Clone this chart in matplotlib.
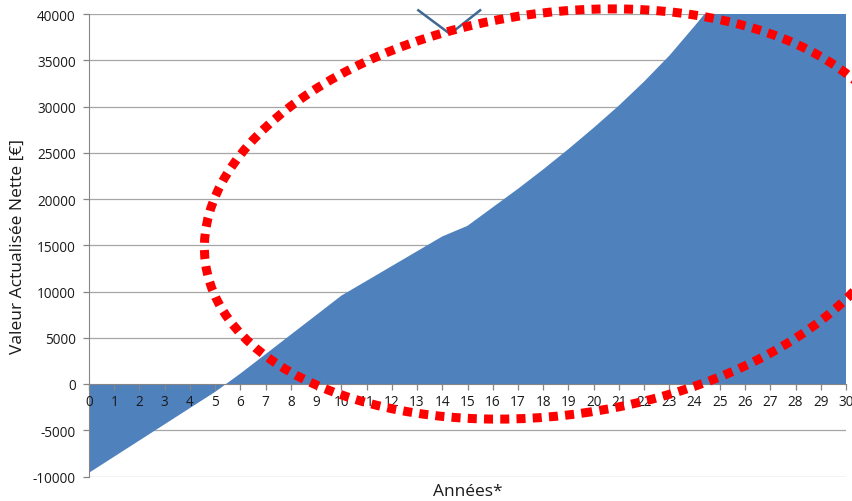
import matplotlib
matplotlib.use("Agg")
import matplotlib.pyplot as plt
from matplotlib.patches import Ellipse

# Net present value over the investment horizon (euros)
years = list(range(0, 31))
npv = [-9600, -7850, -6100, -4350, -2600, -850, 1130, 3230, 5340, 7440,
       9550, 11150, 12750, 14350, 15950, 17100, 19100, 21100, 23200, 25400,
       27700, 30100, 32700, 35500, 38700, 42000, 45500, 49000, 53000, 57000,
       61000]

y_ticks = list(range(-10000, 40001, 5000))

# Arrow-like mark near the top of the chart (year, value)
v_x = [13.05, 14.31, 15.50]
v_y = [40400, 37840, 40400]

plt.rcParams['font.family'] = ['Open Sans', 'DejaVu Sans']

W, H = 852, 502
fig = plt.figure(figsize=(W / 100, H / 100), dpi=100)
ax = fig.add_axes([89 / W, 24.5 / H, (846 - 89) / W, (487 - 24.5) / H])

grid_c = '#a6a6a6'
ax.set_axisbelow(False)
for v in y_ticks:
    if v != 0:
        ax.axhline(v, color=grid_c, linewidth=0.9, zorder=0.5)

ax.fill_between(years, npv, 0, color='#4f81bd', linewidth=0, zorder=1)

ax.set_xlim(0, 30)
ax.set_ylim(-10000, 40000)
ax.set_yticks(y_ticks)
ax.set_yticklabels([str(v) for v in y_ticks])
ax.set_xticks(years)
ax.set_xticklabels([str(y) for y in years])

for s in ('top', 'right'):
    ax.spines[s].set_visible(False)
ax.spines['left'].set_color('#868686')
ax.spines['bottom'].set_position(('data', 0))
ax.spines['bottom'].set_color('#868686')

ax.tick_params(axis='y', length=4, width=0.9, color='#868686', pad=5.5,
               labelsize=9.8, labelcolor='#1a1a1a')
ax.tick_params(axis='x', length=4, width=0.9, color='#868686', pad=3.5,
               labelsize=9.8, labelcolor='#1a1a1a')

ax.set_ylabel('Valeur Actualisée Nette [€]', fontsize=12.5, color='#1a1a1a')
ax.yaxis.set_label_coords((18 - 89) / 757, 0.5)
ax.yaxis.label.set_va('center')
ax.text(0.5, -0.015, 'Années*', transform=ax.transAxes, ha='center', va='top',
        fontsize=12.5, color='#1a1a1a')

ax.plot(v_x, v_y, color='#3f6894', linewidth=1.8, clip_on=False, zorder=4)

ell = Ellipse((5.55, 2.87), 7.06, 4.02, angle=8.1, fill=False,
              edgecolor='#ff0000', linewidth=6.5, linestyle=(0, (1, 0.8)),
              transform=fig.dpi_scale_trans, zorder=5, clip_on=False)
ell.set_capstyle('butt')
fig.add_artist(ell)

fig.savefig('out.png', dpi=100)
